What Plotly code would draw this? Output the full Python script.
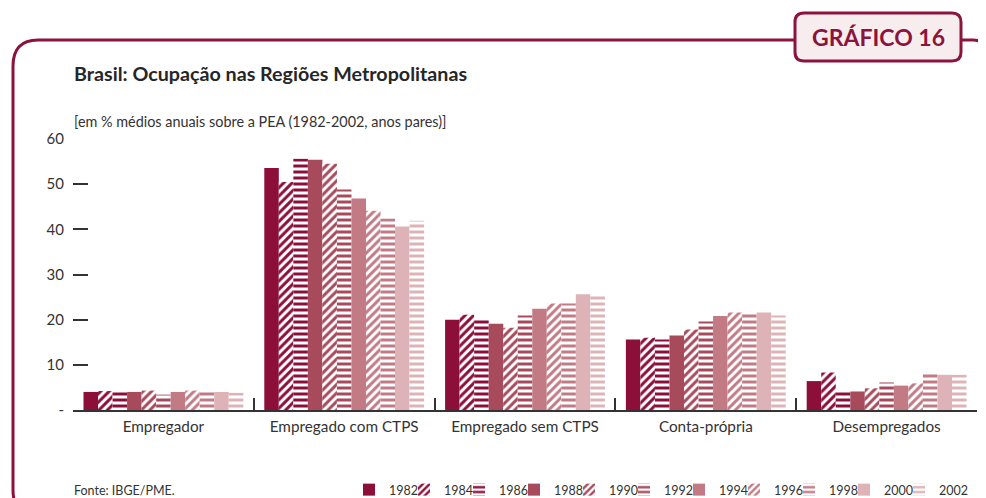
import plotly.graph_objects as go

# ---------------- data ----------------
categories = ["Empregador", "Empregado com CTPS", "Empregado sem CTPS", "Conta-própria", "Desempregados"]
years = ["1982", "1984", "1986", "1988", "1990", "1992", "1994", "1996", "1998", "2000", "2002"]

v1982 = [4.0, 53.6, 20.0, 15.6, 6.4]
v1984 = [4.2, 50.5, 21.1, 16.0, 8.3]
v1986 = [4.0, 55.6, 19.9, 15.6, 4.1]
v1988 = [4.0, 55.4, 19.1, 16.5, 4.1]
v1990 = [4.3, 54.5, 18.2, 17.8, 4.8]
v1992 = [3.4, 48.8, 20.9, 19.6, 6.1]
v1994 = [4.0, 46.8, 22.4, 20.8, 5.4]
v1996 = [4.3, 44.1, 23.6, 21.6, 5.9]
v1998 = [4.3, 42.4, 23.6, 21.3, 8.3]
v2000 = [4.0, 40.6, 25.6, 21.6, 7.8]
v2002 = [3.8, 41.9, 25.6, 20.9, 7.8]
series_values = [v1982, v1984, v1986, v1988, v1990, v1992, v1994, v1996, v1998, v2000, v2002]

y_tickvals = [0, 10, 20, 30, 40, 50, 60]
y_ticktext = ["-", "10", "20", "30", "40", "50", "60"]

# ---------------- styles ----------------
C1 = "#8C0F3A"
C2 = "#A64A5C"
C3 = "#C27B85"
C4 = "#DDB3B7"
colors = [C1, C1, C1, C2, C2, C2, C3, C3, C3, C4, C4]
shapes_pat = ["", "/", "-", "", "/", "-", "", "/", "-", "", "-"]

FRAME = "#8C143C"
TXT = "#333333"
FONT = "Lato"

# page body has an 8px margin: figure sized to fill the remaining window
O = 8
W, H = 978, 490
# plot area in screen coordinates
SX0, SX1, SY0, SY1 = 73, 977, 139, 410
L, R, T, B = SX0 - O, W - (SX1 - O), SY0 - O, H - (SY1 - O)
PW, PH = W - L - R, H - T - B


def px(x):
    return (x - SX0) / PW


def py(y):
    return (SY1 - y) / PH


fig = go.Figure()
for yr, vals, col, pat in zip(years, series_values, colors, shapes_pat):
    marker = dict(color=col, line=dict(width=0))
    if pat:
        marker["pattern"] = dict(shape=pat, fgcolor=col, bgcolor="white",
                                 size=6, solidity=0.5, fillmode="replace")
    fig.add_trace(go.Bar(name=yr, x=categories, y=vals, marker=marker))

# invisible spacer entry so the last legend label is not clipped
fig.add_trace(go.Scatter(x=[None], y=[None], name=" ", mode="markers",
                         marker=dict(opacity=0, color="white"), hoverinfo="skip", showlegend=True))


def P(x, y):
    return f"{px(x):.5f},{py(y):.5f}"


frame_path = ("M " + P(985, 600) + " L " + P(985, 52) + " Q " + P(985, 40) + " " + P(973, 40)
              + " L " + P(38, 40) + " Q " + P(13, 40) + " " + P(13, 66)
              + " L " + P(13, 490) + " Q " + P(13, 516) + " " + P(38, 516)
              + " L " + P(985, 516))

bx0, by0, bx1, by1, rr = 795, 13, 961, 61, 9
box_path = ("M " + P(bx0 + rr, by0) + " L " + P(bx1 - rr, by0) + " Q " + P(bx1, by0) + " " + P(bx1, by0 + rr)
            + " L " + P(bx1, by1 - rr) + " Q " + P(bx1, by1) + " " + P(bx1 - rr, by1)
            + " L " + P(bx0 + rr, by1) + " Q " + P(bx0, by1) + " " + P(bx0, by1 - rr)
            + " L " + P(bx0, by0 + rr) + " Q " + P(bx0, by0) + " " + P(bx0 + rr, by0) + " Z")

shapes = [
    dict(type="path", xref="paper", yref="paper", path=frame_path,
         line=dict(color=FRAME, width=3), fillcolor="rgba(0,0,0,0)", layer="above"),
    dict(type="path", xref="paper", yref="paper", path=box_path,
         line=dict(color=FRAME, width=3), fillcolor="#F7EDEF", layer="above"),
]

annotations = [
    dict(text="<b>GRÁFICO 16</b>", x=px((bx0 + bx1) / 2), y=py(37), xref="paper", yref="paper",
         xanchor="center", yanchor="middle", showarrow=False,
         font=dict(family=FONT, size=23, color=FRAME)),
    dict(text="<b>Brasil: Ocupação nas Regiões Metropolitanas</b>", x=px(72), y=py(74),
         xref="paper", yref="paper", xanchor="left", yanchor="middle", showarrow=False,
         font=dict(family=FONT, size=19.7, color="#262626")),
    dict(text="[em % médios anuais sobre a PEA (1982-2002, anos pares)]", x=px(72), y=py(121),
         xref="paper", yref="paper", xanchor="left", yanchor="middle", showarrow=False,
         font=dict(family=FONT, size=14.4, color=TXT)),
    dict(text="Fonte: IBGE/PME.", x=px(72), y=py(490),
         xref="paper", yref="paper", xanchor="left", yanchor="middle", showarrow=False,
         font=dict(family=FONT, size=12.5, color=TXT)),
]

fig.update_layout(
    width=W, height=H,
    margin=dict(l=L, r=R, t=T, b=B, pad=0, autoexpand=False),
    paper_bgcolor="white", plot_bgcolor="white",
    barmode="group", bargap=0.116, bargroupgap=0,
    font=dict(family=FONT, color=TXT),
    shapes=shapes, annotations=annotations,
    showlegend=True,
    legend=dict(orientation="h", x=px(349), y=py(490), xanchor="left", yanchor="middle",
                font=dict(family=FONT, size=12.5, color=TXT), itemwidth=30,
                entrywidth=10, entrywidthmode="pixels", traceorder="normal",
                bgcolor="rgba(0,0,0,0)", borderwidth=0, tracegroupgap=0),
)

fig.update_xaxes(type="category", categoryorder="array", categoryarray=categories,
                 range=[-0.5, len(categories) - 0.5],
                 showline=True, linecolor="#333333", linewidth=2,
                 ticks="inside", tickson="boundaries", ticklen=12, tickwidth=2, tickcolor="#333333",
                 showgrid=False, zeroline=False, ticklabelstandoff=2,
                 tickfont=dict(family=FONT, size=15.3, color=TXT))
fig.update_yaxes(range=[0, 60], tickmode="array", tickvals=y_tickvals, ticktext=y_ticktext,
                 ticks="inside", ticklen=15, tickwidth=2, tickcolor="#333333",
                 showline=False, showgrid=False, zeroline=False, ticklabelstandoff=8,
                 tickfont=dict(family=FONT, size=15, color=TXT))

fig.write_html("out.html")
